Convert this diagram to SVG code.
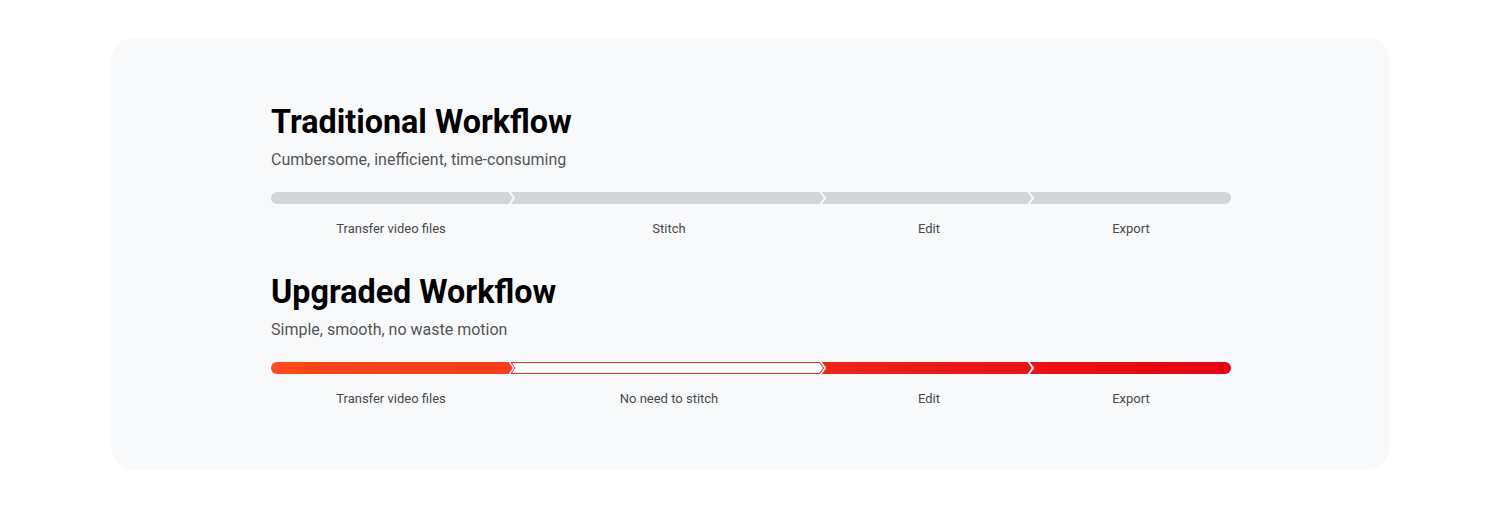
<svg xmlns="http://www.w3.org/2000/svg" width="1491" height="519" viewBox="0 0 1491 519">
<style>
.title{font-family:Roboto,"Liberation Sans",sans-serif;font-weight:700;font-size:32.3px;fill:#000}
.sub{font-family:Roboto,"Liberation Sans",sans-serif;font-size:16px;fill:#555}
.lbl{font-family:Roboto,"Liberation Sans",sans-serif;font-size:13px;fill:#4a4a4a;text-anchor:middle}
.chev{fill:none;stroke:#f8f9fb;stroke-width:2}
</style>
<defs>
<linearGradient id="red" x1="271" y1="0" x2="1231" y2="0" gradientUnits="userSpaceOnUse">
<stop offset="0" stop-color="#ff4a1c"/>
<stop offset="0.55" stop-color="#f0271a"/>
<stop offset="1" stop-color="#e60012"/>
</linearGradient>
</defs>
<rect width="1491" height="519" fill="#fff"/>
<rect x="111" y="38" width="1279" height="431" rx="22" fill="#f8f9fb"/>
<g id="traditional">
<text class="title" x="271" y="133">Traditional Workflow</text>
<text class="sub" x="271" y="165">Cumbersome, inefficient, time-consuming</text>
<rect x="271" y="192" width="960" height="12" rx="6" fill="#d4d5d8"/>
<g class="connectors">
<polyline class="chev" points="509,191 514,198 509,205"/>
<polyline class="chev" points="820,191 825,198 820,205"/>
<polyline class="chev" points="1028,191 1033,198 1028,205"/>
</g>
<text class="lbl" x="391" y="233">Transfer video files</text>
<text class="lbl" x="669" y="233">Stitch</text>
<text class="lbl" x="929" y="233">Edit</text>
<text class="lbl" x="1131" y="233">Export</text>
</g>
<g id="upgraded">
<text class="title" x="271" y="303">Upgraded Workflow</text>
<text class="sub" x="271" y="335">Simple, smooth, no waste motion</text>
<rect x="271" y="362" width="960" height="12" rx="6" fill="url(#red)"/>
<g class="connectors">
<polyline class="chev" points="509,361 514,368 509,375"/>
<polyline class="chev" points="820,361 825,368 820,375"/>
<polyline class="chev" points="1028,361 1033,368 1028,375"/>
</g>
<polygon points="511,362.5 819.5,362.5 823.5,368 819.5,373.5 511,373.5 515,368" fill="#fff" stroke="#e8332c" stroke-width="1"/>
<text class="lbl" x="391" y="403">Transfer video files</text>
<text class="lbl" x="669" y="403">No need to stitch</text>
<text class="lbl" x="929" y="403">Edit</text>
<text class="lbl" x="1131" y="403">Export</text>
</g>
</svg>
